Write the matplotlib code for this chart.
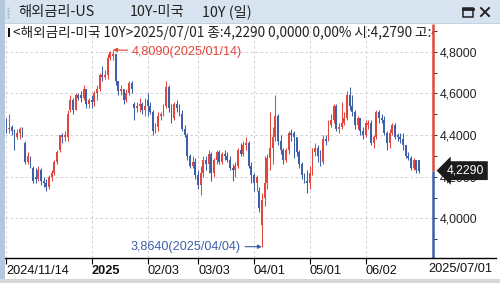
import matplotlib
matplotlib.use("Agg")
import matplotlib.pyplot as plt
import numpy as np
import pandas as pd
from matplotlib.patches import Rectangle
from matplotlib.ticker import FixedLocator

# trading days (US bond market holidays dropped)
holidays = ["2024-11-28", "2024-12-25", "2025-01-01", "2025-01-20",
            "2025-02-17", "2025-04-18", "2025-05-26", "2025-06-19"]
dates = pd.bdate_range("2024-11-14", "2025-07-01").drop(pd.to_datetime(holidays))

opens = [4.45, 4.43, 4.44, 4.42, 4.39, 4.41, 4.43, 4.36, 4.27, 4.29, 4.24,
         4.20, 4.19, 4.23, 4.18, 4.17, 4.15, 4.20, 4.22, 4.27, 4.33, 4.40, 4.39, 4.39, 4.52, 4.57, 4.52, 4.59, 4.59, 4.58, 4.62, 4.55,
         4.57, 4.56, 4.60, 4.62, 4.69, 4.68, 4.69, 4.77, 4.78, 4.79, 4.66, 4.61, 4.62, 4.57, 4.60, 4.65, 4.55, 4.53, 4.54, 4.55, 4.52,
         4.57, 4.54, 4.51, 4.42, 4.44, 4.49, 4.50, 4.54, 4.63, 4.53, 4.48, 4.55, 4.53, 4.50, 4.43, 4.40, 4.30, 4.25, 4.27,
         4.21, 4.16, 4.22, 4.28, 4.26, 4.31, 4.22, 4.28, 4.32, 4.27, 4.31, 4.30, 4.28, 4.24, 4.23, 4.25, 4.33, 4.31, 4.35, 4.36, 4.25,
         4.21, 4.17, 4.13, 3.97, 4.10, 4.17, 4.29, 4.34, 4.39, 4.49, 4.37, 4.33, 4.28, 4.33, 4.41, 4.41, 4.39, 4.32, 4.26, 4.21, 4.18,
         4.17, 4.22, 4.32, 4.34, 4.30, 4.27, 4.38, 4.38, 4.45, 4.47, 4.54, 4.43, 4.44, 4.46, 4.48, 4.59, 4.54, 4.51, 4.45, 4.48, 4.42,
         4.40, 4.45, 4.46, 4.36, 4.39, 4.51, 4.48, 4.47, 4.41, 4.36, 4.41, 4.45, 4.40, 4.39, 4.38, 4.35, 4.30, 4.29, 4.24, 4.28,
         4.279]
highs = [4.48, 4.50, 4.45, 4.43, 4.43, 4.44, 4.44, 4.37, 4.32, 4.30, 4.25,
         4.24, 4.25, 4.24, 4.20, 4.19, 4.21, 4.23, 4.28, 4.33, 4.40, 4.41, 4.42, 4.52, 4.59, 4.58, 4.60, 4.60, 4.61, 4.64, 4.62, 4.58,
         4.59, 4.61, 4.64, 4.70, 4.73, 4.71, 4.79, 4.805, 4.809, 4.79, 4.66, 4.64, 4.62, 4.62, 4.66, 4.66, 4.56, 4.56, 4.58, 4.56, 4.58,
         4.60, 4.56, 4.52, 4.46, 4.51, 4.51, 4.55, 4.66, 4.64, 4.55, 4.56, 4.57, 4.55, 4.52, 4.45, 4.41, 4.31, 4.30, 4.29,
         4.23, 4.25, 4.30, 4.30, 4.33, 4.32, 4.29, 4.33, 4.33, 4.32, 4.33, 4.32, 4.30, 4.26, 4.27, 4.34, 4.36, 4.37, 4.39, 4.37, 4.27,
         4.22, 4.21, 4.15, 4.12, 4.30, 4.31, 4.51, 4.44, 4.59, 4.50, 4.40, 4.34, 4.34, 4.42, 4.43, 4.42, 4.39, 4.33, 4.27, 4.22, 4.23,
         4.25, 4.34, 4.36, 4.35, 4.33, 4.40, 4.40, 4.47, 4.50, 4.55, 4.55, 4.46, 4.56, 4.51, 4.61, 4.63, 4.59, 4.52, 4.49, 4.48, 4.44,
         4.47, 4.47, 4.47, 4.40, 4.52, 4.52, 4.50, 4.49, 4.42, 4.43, 4.46, 4.46, 4.41, 4.41, 4.41, 4.35, 4.32, 4.30, 4.29, 4.28,
         4.28]
lows = [4.41, 4.41, 4.40, 4.33, 4.38, 4.38, 4.39, 4.26, 4.26, 4.24, 4.17,
        4.17, 4.18, 4.16, 4.15, 4.13, 4.14, 4.18, 4.21, 4.26, 4.32, 4.36, 4.37, 4.37, 4.51, 4.50, 4.52, 4.57, 4.56, 4.57, 4.53, 4.53,
        4.53, 4.54, 4.57, 4.61, 4.66, 4.67, 4.67, 4.76, 4.76, 4.64, 4.59, 4.59, 4.55, 4.56, 4.59, 4.60, 4.47, 4.51, 4.51, 4.50, 4.49,
        4.49, 4.50, 4.40, 4.41, 4.42, 4.47, 4.49, 4.53, 4.51, 4.46, 4.47, 4.51, 4.49, 4.42, 4.39, 4.28, 4.24, 4.24, 4.19,
        4.14, 4.11, 4.20, 4.23, 4.22, 4.18, 4.20, 4.26, 4.26, 4.26, 4.28, 4.27, 4.23, 4.18, 4.20, 4.24, 4.30, 4.30, 4.33, 4.24, 4.17,
        4.13, 4.13, 4.03, 3.864, 4.06, 4.14, 4.23, 4.26, 4.37, 4.35, 4.31, 4.26, 4.27, 4.31, 4.37, 4.29, 4.30, 4.24, 4.19, 4.17, 4.12,
        4.14, 4.21, 4.30, 4.27, 4.25, 4.26, 4.35, 4.37, 4.44, 4.46, 4.42, 4.41, 4.43, 4.45, 4.47, 4.52, 4.49, 4.43, 4.43, 4.40, 4.38,
        4.39, 4.43, 4.35, 4.34, 4.38, 4.46, 4.46, 4.40, 4.33, 4.34, 4.40, 4.38, 4.37, 4.36, 4.33, 4.29, 4.28, 4.23, 4.23, 4.22,
        4.22]
closes = [4.43, 4.43, 4.42, 4.39, 4.41, 4.43, 4.41, 4.27, 4.30, 4.25, 4.18,
          4.19, 4.23, 4.18, 4.17, 4.15, 4.20, 4.22, 4.27, 4.32, 4.40, 4.39, 4.40, 4.50, 4.57, 4.52, 4.59, 4.58, 4.58, 4.62, 4.55, 4.57,
          4.56, 4.60, 4.62, 4.69, 4.68, 4.69, 4.77, 4.80, 4.79, 4.66, 4.61, 4.62, 4.57, 4.60, 4.65, 4.62, 4.53, 4.54, 4.55, 4.52, 4.54,
          4.54, 4.51, 4.42, 4.44, 4.49, 4.50, 4.54, 4.63, 4.53, 4.48, 4.55, 4.53, 4.50, 4.43, 4.40, 4.30, 4.25, 4.27, 4.21,
          4.16, 4.22, 4.28, 4.26, 4.31, 4.22, 4.28, 4.32, 4.27, 4.31, 4.30, 4.28, 4.24, 4.23, 4.25, 4.33, 4.31, 4.35, 4.36, 4.25, 4.21,
          4.17, 4.20, 4.05, 4.09, 4.17, 4.29, 4.34, 4.39, 4.49, 4.37, 4.33, 4.28, 4.33, 4.41, 4.40, 4.39, 4.32, 4.26, 4.21, 4.18, 4.17,
          4.22, 4.32, 4.34, 4.30, 4.27, 4.38, 4.37, 4.45, 4.47, 4.54, 4.43, 4.44, 4.46, 4.48, 4.59, 4.54, 4.51, 4.45, 4.48, 4.42, 4.40,
          4.46, 4.46, 4.36, 4.39, 4.51, 4.48, 4.47, 4.41, 4.36, 4.41, 4.45, 4.39, 4.39, 4.38, 4.35, 4.30, 4.29, 4.24, 4.28, 4.23,
          4.229]

tick_dates = ["2024-11-14", "2025-01-02", "2025-02-03", "2025-03-03",
              "2025-04-01", "2025-05-01", "2025-06-02"]
tick_labels = ["2024/11/14", "2025", "02/03", "03/03", "04/01", "05/01", "06/02"]
y_ticks = [4.0, 4.2, 4.4, 4.6, 4.8]
y_minor = [3.9, 4.1, 4.3, 4.5, 4.7, 4.9]

RED = "#e2463c"
BLUE = "#3d60a8"
GRID = "#c9c9c9"
KR = ["Noto Sans CJK KR", "DejaVu Sans"]
NUM = ["Liberation Sans", "DejaVu Sans"]


def fmt(v):
    return f"{v:.4f}".replace(".", ",")


W, H = 500, 283
fig = plt.figure(figsize=(W / 100, H / 100), dpi=100)
fig.patch.set_facecolor("white")

# window frame (pixel coords)
bg = fig.add_axes([0, 0, 1, 1], zorder=-1)
bg.set_xlim(0, W)
bg.set_ylim(H, 0)
bg.axis("off")
bg.add_patch(Rectangle((0, 0), W, 24, color="#d7e3ee", lw=0))
bg.add_patch(Rectangle((0, 23), W, 1, color="#c3d2e0", lw=0))
bg.add_patch(Rectangle((0, 0), 5, H, color="#b3c8de", lw=0))
bg.add_patch(Rectangle((0, 279), W, 4, color="#d6d6d6", lw=0))

# main chart
ax = fig.add_axes([5 / W, 1 - 258 / H, (433 - 5) / W, (258 - 24) / H])
ax.set_facecolor("white")
for s in ax.spines.values():
    s.set_visible(False)

x = np.arange(len(closes))
o = np.array(opens)
c = np.array(closes)
cols = [RED if cc >= oo else BLUE for oo, cc in zip(o, c)]

ax.set_xlim(-0.56, 160.3)
ax.set_ylim(3.8096, 4.933)

for v in y_ticks:
    ax.axhline(v, color=GRID, lw=0.6, ls=(0, (3, 3)), zorder=0)
tick_pos = [dates.get_loc(pd.Timestamp(d)) for d in tick_dates]
for p in tick_pos:
    ax.axvline(p, color=GRID, lw=0.6, ls=(0, (3, 3)), zorder=0)

ax.vlines(x, lows, highs, colors=cols, lw=0.75, zorder=2)
ax.bar(x, np.maximum(np.abs(c - o), 0.004), bottom=np.minimum(o, c),
       width=0.7, color=cols, lw=0, zorder=2)

# x axis
ax.set_xticks(tick_pos)
ax.set_xticklabels(tick_labels, ha="left", family=NUM, fontsize=9.2)
ax.get_xticklabels()[1].set_fontweight("bold")
ax.tick_params(axis="x", length=4, width=0.8, color="black", pad=1,
               labelcolor="#111")

# y axis on the right
ax.yaxis.tick_right()
ax.set_yticks(y_ticks)
ax.set_yticklabels([fmt(v) for v in y_ticks], family=NUM, fontsize=8.8)
ax.yaxis.set_minor_locator(FixedLocator(y_minor))
ax.tick_params(axis="y", which="both", length=3, width=0.7, color="#333",
               pad=1.5, labelcolor="#222")

ytr = ax.get_yaxis_transform()
ylo, yhi = ax.get_ylim()
ax.plot([1, 1], [c[-1], yhi], transform=ytr, color=RED, lw=1.8,
        clip_on=False, solid_capstyle="butt", zorder=4)
ax.plot([1, 1], [ylo, c[-1]], transform=ytr, color=BLUE, lw=1.8,
        clip_on=False, solid_capstyle="butt", zorder=4)

ax.annotate(fmt(c[-1]), xy=(1, c[-1]), xycoords=ytr, xytext=(14, 0),
            textcoords="offset pixels", ha="left", va="center", color="white",
            family=NUM, fontsize=8.8, annotation_clip=False, zorder=6,
            bbox=dict(boxstyle="larrow,pad=0.28", fc="#1c1c1c", ec="none"))

# max / min markers
i_max = int(np.argmax(highs))
i_min = int(np.argmin(lows))
ax.annotate(f"{fmt(highs[i_max])}({dates[i_max]:%Y/%m/%d})",
            xy=(i_max, highs[i_max]), xytext=(19, -2), textcoords="offset pixels",
            ha="left", va="center", color=RED, family=NUM, fontsize=9.1,
            arrowprops=dict(arrowstyle="-|>", color=RED, lw=0.8,
                            mutation_scale=6, shrinkA=1, shrinkB=0))
ax.annotate(f"{fmt(lows[i_min])}({dates[i_min]:%Y/%m/%d})",
            xy=(i_min, lows[i_min]), xytext=(-21, 0), textcoords="offset pixels",
            ha="right", va="center", color=BLUE, family=NUM, fontsize=9.1,
            arrowprops=dict(arrowstyle="-|>", color=BLUE, lw=0.8,
                            mutation_scale=6, shrinkA=1, shrinkB=0))

# legend line at top of chart, clipped by the plot area
ax.text((13 - 5) / 428, (258 - 33) / 234,
        f"<해외금리-미국 10Y>{dates[-1]:%Y/%m/%d} 종:{fmt(c[-1])} 0,0000 0,00% "
        f"시:{fmt(o[-1])} 고:{fmt(highs[-1])}",
        transform=ax.transAxes, ha="left", va="center", family=KR,
        fontsize=9.8, color="#222", clip_on=True)

# overlay in pixel coords
top = fig.add_axes([0, 0, 1, 1], zorder=5)
top.set_xlim(0, W)
top.set_ylim(H, 0)
top.axis("off")
top.patch.set_visible(False)

top.add_patch(Rectangle((8, 28), 2.2, 9, color="#111", lw=0))
top.plot([5, 496], [258, 258], color="black", lw=1)
top.text(492, 269.5, f"{dates[-1]:%Y/%m/%d}", ha="right", va="center",
         family=NUM, fontsize=9.2, color="#111")

for yy in (8, 11, 14, 17):
    top.plot([8], [yy], marker="s", ms=1.2, color="#9aaabb", mec="none")
top.text(18, 12, "해외금리-US", ha="left", va="center", family=KR,
         fontsize=10.3, color="#222")
top.text(130, 12, "10Y-미국", ha="left", va="center", family=KR,
         fontsize=10.3, color="#222")
top.text(202, 12, "10Y (일)", ha="left", va="center", family=KR,
         fontsize=10.3, color="#222")

top.add_patch(Rectangle((463, 8), 10, 9, fill=False, ec="#222", lw=1.1))
top.plot([463, 473], [8.6, 8.6], color="#222", lw=2)
top.plot([481, 489], [8, 16], color="#222", lw=1.4)
top.plot([481, 489], [16, 8], color="#222", lw=1.4)

fig.savefig("out.png", dpi=100)
